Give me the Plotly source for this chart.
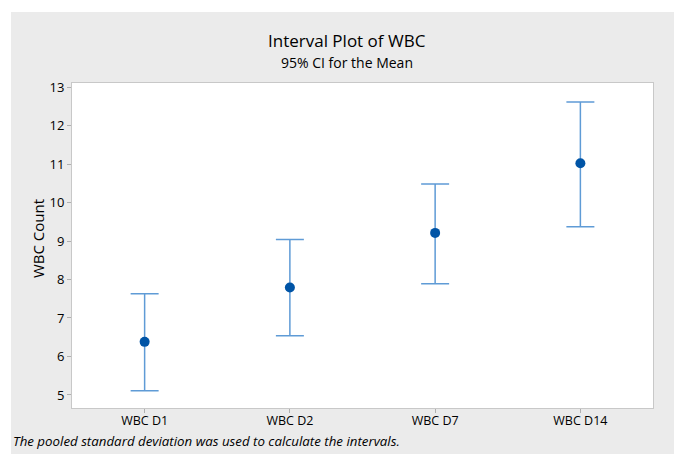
import plotly.graph_objects as go

categories = ["WBC D1", "WBC D2", "WBC D7", "WBC D14"]
means = [6.38, 7.79, 9.21, 11.02]
upper = [7.63, 9.04, 10.48, 12.61]
lower = [5.11, 6.54, 7.89, 9.37]
y_ticks = [5, 6, 7, 8, 9, 10, 11, 12, 13]

err_plus = [u - m for u, m in zip(upper, means)]
err_minus = [m - l for m, l in zip(means, lower)]

FONT = "Open Sans"
TXT = "#000000"
fig = go.Figure()
fig.add_trace(go.Scatter(
    x=categories, y=means, mode="markers",
    marker=dict(color="#0054a6", size=10),
    error_y=dict(type="data", symmetric=False, array=err_plus, arrayminus=err_minus,
                 color="#5f9bd6", thickness=1.5, width=14),
    showlegend=False, hoverinfo="skip",
))

# gray outer background and white plot area
fig.add_shape(type="rect", xref="paper", yref="paper", x0=-0.105, x1=1.04, y0=-0.15, y1=1.2185,
              fillcolor="#ebebeb", line=dict(width=0), layer="below")
fig.add_shape(type="rect", xref="paper", yref="paper", x0=0, x1=1, y0=0, y1=1,
              fillcolor="white", line=dict(width=0), layer="below")

fig.add_annotation(text="Interval Plot of WBC", xref="paper", yref="paper", x=0.473, y=1.132,
                   showarrow=False, font=dict(family=FONT, size=17, color=TXT), xanchor="center", yanchor="middle")
fig.add_annotation(text="95% CI for the Mean", xref="paper", yref="paper", x=0.473, y=1.064,
                   showarrow=False, font=dict(family=FONT, size=14, color=TXT), xanchor="center", yanchor="middle")
fig.add_annotation(text="WBC Count", xref="paper", yref="paper", x=-0.0585, y=0.52, textangle=-90,
                   showarrow=False, font=dict(family=FONT, size=15, color=TXT), xanchor="center", yanchor="middle")
fig.add_annotation(text="<i>The pooled standard deviation was used to calculate the intervals.</i>",
                   xref="paper", yref="paper", x=-0.105, y=-0.1015, showarrow=False,
                   font=dict(family=FONT, size=13.3, color=TXT), xanchor="left", yanchor="middle")

fig.update_layout(
    width=674, height=454,
    margin=dict(l=72, r=21, t=83, b=46),
    paper_bgcolor="white", plot_bgcolor="white",
    font=dict(family=FONT, size=12, color=TXT),
)
fig.update_xaxes(range=[-0.5, 3.5], showgrid=False, zeroline=False,
                 showline=True, mirror=True, linecolor="#c8c8c8", linewidth=1,
                 ticks="outside", ticklen=4, tickcolor="#b0b0b0", ticklabelstandoff=-3,
                 tickfont=dict(family=FONT, size=12.5, color=TXT))
fig.update_yaxes(range=[4.662, 13.104], tickvals=y_ticks, showgrid=False, zeroline=False,
                 showline=True, mirror=True, linecolor="#c8c8c8", linewidth=1,
                 ticks="outside", ticklen=4, tickcolor="#b0b0b0",
                 tickfont=dict(family=FONT, size=13, color=TXT))

fig.write_html("out.html", config={"displayModeBar": False},
               post_script="document.body.style.margin='0';")
